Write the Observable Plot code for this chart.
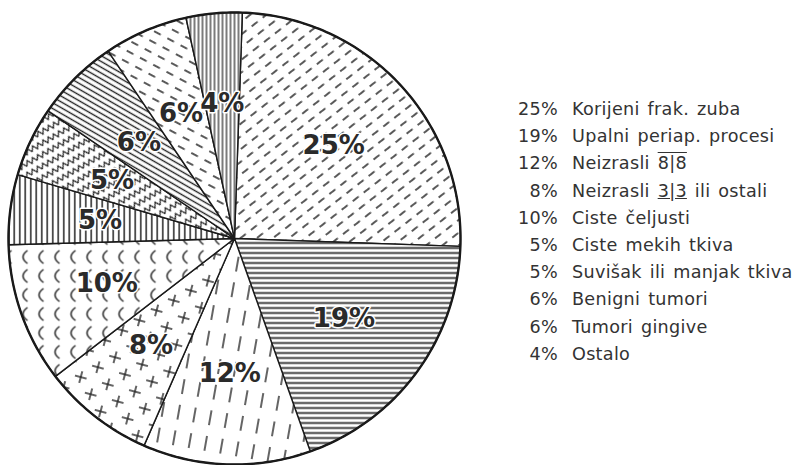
<!DOCTYPE html>
<html>
<head>
<meta charset="utf-8">
<script src="https://cdn.jsdelivr.net/npm/d3@7"></script>
<script src="https://cdn.jsdelivr.net/npm/@observablehq/plot@0.6"></script>
<style>
  html, body { margin: 0; padding: 0; background: #fff; }
  #wrap { position: relative; width: 802px; height: 465px; overflow: hidden; }
  #legend { position: absolute; left: 500px; top: 96px; font-family: "DejaVu Sans", sans-serif; font-size: 17.6px; letter-spacing: 0.3px; color: #333; }
  #legend .row { height: 27.2px; line-height: 27.2px; white-space: nowrap; word-spacing: 2px; }
  #legend .pct { display: inline-block; width: 58px; text-align: right; margin-right: 14px; letter-spacing: 0.3px; }
</style>
</head>
<body>
<div id="wrap"><div id="chart"></div><div id="legend"></div></div>
<script>
// ---- data ----
const categories = [
  "Korijeni frak. zuba",
  "Upalni periap. procesi",
  "Neizrasli 8|8",
  "Neizrasli 3|3 ili ostali",
  "Ciste čeljusti",
  "Ciste mekih tkiva",
  "Suvišak ili manjak tkiva",
  "Benigni tumori",
  "Tumori gingive",
  "Ostalo"
];
const percents = [25, 19, 12, 8, 10, 5, 5, 6, 6, 4];

// ---- styles (hatch patterns per slice) ----
const patternIds = ["p25", "p19", "p12", "p8", "p10", "p5a", "p5b", "p6a", "p6b", "p4"];
const startOffsetDeg = 2;
const labelRadius = 0.6;

// ---- build slice geometry from the data ----
const total = d3.sum(percents);
let acc = startOffsetDeg;
const slices = percents.map((v, i) => {
  const a0 = acc, a1 = acc + v / total * 360;
  acc = a1;
  return {i, v, a0, a1, mid: (a0 + a1) / 2};
});
const toXY = (deg, r) => ({x: r * Math.sin(deg * Math.PI / 180), y: r * Math.cos(deg * Math.PI / 180)});
const polys = [];
for (const s of slices) {
  polys.push({slice: s.i, pat: `url(#${patternIds[s.i]})`, ...toXY(0, 0)});
  const n = Math.max(2, Math.ceil(s.a1 - s.a0));
  for (let k = 0; k <= n; k++) {
    const a = s.a0 + (s.a1 - s.a0) * k / n;
    polys.push({slice: s.i, pat: `url(#${patternIds[s.i]})`, ...toXY(a, 1)});
  }
}
const circle = d3.range(0, 361, 1).map(a => toXY(a, 1));
const labels = slices.map(s => ({text: `${s.v}%`, ...toXY(s.mid, labelRadius)}));

const chart = Plot.plot({
  width: 802,
  height: 465,
  marginLeft: 8,
  marginRight: 342,
  marginTop: 12,
  marginBottom: 1,
  x: {domain: [-1, 1], axis: null},
  y: {domain: [-1, 1], axis: null},
  color: {type: "identity"},
  marks: [
    Plot.line(polys, {x: "x", y: "y", z: "slice", fill: "pat", stroke: "#1a1a1a", strokeWidth: 1.4, curve: "linear-closed"}),
    Plot.line(circle, {x: "x", y: "y", stroke: "#1a1a1a", strokeWidth: 2.4, curve: "linear-closed"}),
    Plot.text(labels, {x: "x", y: "y", text: "text", fontSize: 26, fontWeight: "bold", fontFamily: "DejaVu Sans", fill: "#2a2a2a", stroke: "white", strokeWidth: 3})
  ]
});

// pattern definitions
const svg = d3.select(chart);
const defs = svg.insert("defs", ":first-child");
const ink = "#222";
function pat(id, w, h, transform) {
  const p = defs.append("pattern").attr("id", id).attr("patternUnits", "userSpaceOnUse")
    .attr("width", w).attr("height", h);
  if (transform) p.attr("patternTransform", transform);
  p.append("rect").attr("width", w).attr("height", h).attr("fill", "white");
  return p;
}
// 25%: dashed diagonal "/"
let p = pat("p25", 14, 10, "rotate(-38)");
p.append("line").attr("x1", 0).attr("y1", 5).attr("x2", 7.5).attr("y2", 5).attr("stroke", ink).attr("stroke-width", 1.5);
// 19%: horizontal lines
p = pat("p19", 10, 5);
p.append("line").attr("x1", 0).attr("y1", 2.5).attr("x2", 10).attr("y2", 2.5).attr("stroke", ink).attr("stroke-width", 1.7);
// 12%: near-vertical dashes
p = pat("p12", 16, 26, "rotate(10)");
p.append("line").attr("x1", 7).attr("y1", 3).attr("x2", 7).attr("y2", 18).attr("stroke", ink).attr("stroke-width", 1.4);
// 8%: crosses
p = pat("p8", 28, 28, "rotate(15)");
for (const [cx, cy] of [[7, 7], [21, 21]]) {
  p.append("line").attr("x1", cx - 6).attr("y1", cy).attr("x2", cx + 6).attr("y2", cy).attr("stroke", ink).attr("stroke-width", 1.4);
  p.append("line").attr("x1", cx).attr("y1", cy - 6).attr("x2", cx).attr("y2", cy + 6).attr("stroke", ink).attr("stroke-width", 1.4);
}
// 10%: "(" arcs
p = pat("p10", 16, 19);
p.append("path").attr("d", "M11,3 Q2,9.5 11,16").attr("fill", "none").attr("stroke", ink).attr("stroke-width", 1.5);
// 5% a: vertical lines
p = pat("p5a", 5.5, 10);
p.append("line").attr("x1", 2.75).attr("y1", 0).attr("x2", 2.75).attr("y2", 10).attr("stroke", ink).attr("stroke-width", 1.5);
// 5% b: zigzags
p = pat("p5b", 12, 10, "rotate(-30)");
p.append("path").attr("d", "M0,7 L3,2 L6,7 L9,2 L12,7").attr("fill", "none").attr("stroke", ink).attr("stroke-width", 1.2);
// 6% a: dense diagonal "\"
p = pat("p6a", 10, 5, "rotate(30)");
p.append("line").attr("x1", 0).attr("y1", 2.5).attr("x2", 10).attr("y2", 2.5).attr("stroke", ink).attr("stroke-width", 1.4);
// 6% b: sparse dashes "\"
p = pat("p6b", 15, 10, "rotate(28)");
p.append("line").attr("x1", 0).attr("y1", 5).attr("x2", 7.5).attr("y2", 5).attr("stroke", ink).attr("stroke-width", 1.5);
// 4%: vertical lines dense
p = pat("p4", 4, 10);
p.append("line").attr("x1", 2).attr("y1", 0).attr("x2", 2).attr("y2", 10).attr("stroke", ink).attr("stroke-width", 1.2);

document.getElementById("chart").appendChild(chart);

// legend built from data
const legend = d3.select("#legend");
categories.forEach((name, i) => {
  const row = legend.append("div").attr("class", "row");
  row.append("span").attr("class", "pct").text(`${percents[i]}%`);
  const label = row.append("span");
  const m = name.match(/^(.*?)(\d\|\d)(.*)$/);
  if (m) {
    label.append("span").text(m[1]);
    label.append("span").style("text-decoration", m[2].startsWith("8") ? "overline" : "underline").text(m[2]);
    label.append("span").text(m[3]);
  } else {
    label.text(name);
  }
});
</script>
</body>
</html>
